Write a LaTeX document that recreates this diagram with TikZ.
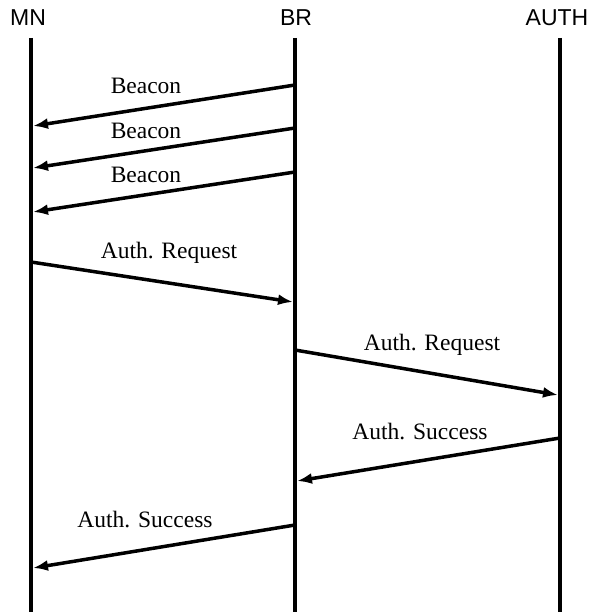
\documentclass[tikz,border=0pt]{standalone}
\usepackage{fontspec}
\setmainfont{Liberation Serif}
\newfontfamily\headfont{Liberation Sans}
\usetikzlibrary{arrows.meta}
\begin{document}
\begin{tikzpicture}[x=1pt,y=-1pt,
  lifeline/.style={line width=4.5pt},
  msg/.style={line width=3.5pt,-{Latex[length=15pt,width=11pt]}},
  head/.style={font=\headfont\fontsize{23}{26}\selectfont,inner sep=0pt},
  lbl/.style={font=\fontsize{23.5}{26}\selectfont,inner sep=0pt}]
\useasboundingbox (0,0) rectangle (591,612);
% headers
\node[head] (hMN) at (28,18) {MN};
\node[head] (hBR) at (296,18) {BR};
\node[head] (hAUTH) at (557,18) {AUTH};
% lifelines
\coordinate (mnT) at (31,38); \coordinate (mnB) at (31,612);
\coordinate (brT) at (295,38); \coordinate (brB) at (295,612);
\coordinate (auT) at (560,38); \coordinate (auB) at (560,612);
\draw[lifeline] (mnT) -- (mnB);
\draw[lifeline] (brT) -- (brB);
\draw[lifeline] (auT) -- (auB);
% message endpoints
\coordinate (b1s) at (295,85);  \coordinate (b1e) at (33,126);
\coordinate (b2s) at (295,128); \coordinate (b2e) at (33,168);
\coordinate (b3s) at (295,172); \coordinate (b3e) at (33,212);
\coordinate (r1s) at (31,262);  \coordinate (r1e) at (293,302);
\coordinate (r2s) at (295,350); \coordinate (r2e) at (558,395);
\coordinate (s1s) at (560,438); \coordinate (s1e) at (297,481);
\coordinate (s2s) at (295,525); \coordinate (s2e) at (33,568);
\draw[msg] (b1s) -- (b1e);
\draw[msg] (b2s) -- (b2e);
\draw[msg] (b3s) -- (b3e);
\draw[msg] (r1s) -- (r1e);
\draw[msg] (r2s) -- (r2e);
\draw[msg] (s1s) -- (s1e);
\draw[msg] (s2s) -- (s2e);
% labels
\node[lbl] (l1) at (146,86) {Beacon};
\node[lbl] (l2) at (146,131) {Beacon};
\node[lbl] (l3) at (146,175) {Beacon};
\node[lbl] (l4) at (169,253) {Auth. Request};
\node[lbl] (l5) at (432,345) {Auth. Request};
\node[lbl] (l6) at (420,432) {Auth. Success};
\node[lbl] (l7) at (145,520) {Auth. Success};
\end{tikzpicture}
\end{document}
